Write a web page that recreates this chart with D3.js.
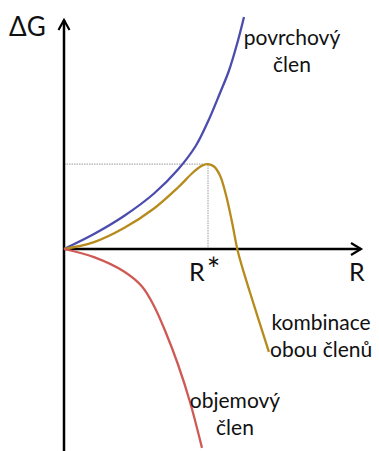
<!DOCTYPE html>
<html>
<head>
<meta charset="utf-8">
<script src="https://cdn.jsdelivr.net/npm/d3@7"></script>
<style>
  body { margin: 0; background: #fff; }
  text { font-family: Lato, "Open Sans", sans-serif; fill: #111; }
</style>
</head>
<body>
<div id="chart"></div>
<script>
// curves, as [R, dG] in arbitrary units
var surfaceTerm = [[0,0],[10,5],[20,11],[30,18.5],[38,26.5],[44,34.5],[48,42.5],[52,52],[55,59.5],[58,69.5],[60,77.3]];
var volumeTerm = [[0,0],[10,-2.7],[20,-7.5],[26,-12.5],[30,-19],[34,-28],[38,-38.5],[42,-51],[46,-66.3]];
var combined = [[0,0],[10,2.3],[20,7],[30,13.5],[38,20.5],[43,25.5],[46,27.8],[48,28.3],[50,27.5],[52,24.5],[54,18],[56,9],[58,-1],[62,-14.5],[68.3,-34.3]];
var rStar = 48, gStar = 28.3;

var curveLabels = [
  {lines: ["povrchový", "člen"], at: [76, 68]},
  {lines: ["kombinace", "obou členů"], at: [85.7, -27]},
  {lines: ["objemový", "člen"], at: [57, -53]}
];

var width = 379, height = 451;
var x = d3.scaleLinear().domain([0, 100]).range([64, 364]);
var y = d3.scaleLinear().domain([-70, 80]).range([459, 9]);

var svg = d3.select("#chart").append("svg")
  .attr("width", width)
  .attr("height", height);

var line = d3.line()
  .x(function(d) { return x(d[0]); })
  .y(function(d) { return y(d[1]); })
  .curve(d3.curveCatmullRom.alpha(0.5));

// dotted guides to the maximum
svg.append("path")
  .attr("d", "M" + x(0) + "," + y(gStar) + "H" + x(rStar) + "V" + y(0))
  .attr("fill", "none")
  .attr("stroke", "#999")
  .attr("stroke-width", 1)
  .attr("stroke-dasharray", "1.5,1");

// axes
svg.append("line")
  .attr("x1", x(0)).attr("x2", x(0))
  .attr("y1", height).attr("y2", 20)
  .attr("stroke", "#000").attr("stroke-width", 2.5);
svg.append("path")
  .attr("d", "M" + (x(0) - 5.5) + ",30L" + x(0) + ",20L" + (x(0) + 5.5) + ",30")
  .attr("fill", "none").attr("stroke", "#000").attr("stroke-width", 2.2);

svg.append("line")
  .attr("x1", x(0)).attr("x2", 361)
  .attr("y1", y(0)).attr("y2", y(0))
  .attr("stroke", "#000").attr("stroke-width", 2.5);
svg.append("path")
  .attr("d", "M351," + (y(0) - 6) + "L361," + y(0) + "L351," + (y(0) + 6))
  .attr("fill", "none").attr("stroke", "#000").attr("stroke-width", 2.2);

var series = [
  {data: surfaceTerm, color: "#4b4cae"},
  {data: combined, color: "#b68b1c"},
  {data: volumeTerm, color: "#cf5a55"}
];

svg.selectAll("path.curve")
  .data(series)
  .enter()
  .append("path")
  .attr("class", "curve")
  .attr("d", function(d) { return line(d.data); })
  .attr("fill", "none")
  .attr("stroke", function(d) { return d.color; })
  .attr("stroke-width", 2.3);

// axis labels
svg.append("text").attr("x", 9).attr("y", 36).style("font-size", "26px").text("ΔG");
var rs = svg.append("text").attr("x", 189).attr("y", 281).style("font-size", "25px");
rs.append("tspan").text("R");
rs.append("tspan").attr("dx", 2).style("font-size", "32px").text("*");
svg.append("text").attr("x", 349).attr("y", 281).style("font-size", "25px").text("R");

curveLabels.forEach(function(l) {
  var t = svg.append("text")
    .attr("x", x(l.at[0]))
    .attr("y", y(l.at[1]))
    .attr("text-anchor", "middle")
    .style("font-size", "21px");
  l.lines.forEach(function(s, i) {
    t.append("tspan").attr("x", x(l.at[0])).attr("dy", i ? 27 : 0).text(s);
  });
});
</script>
</body>
</html>
